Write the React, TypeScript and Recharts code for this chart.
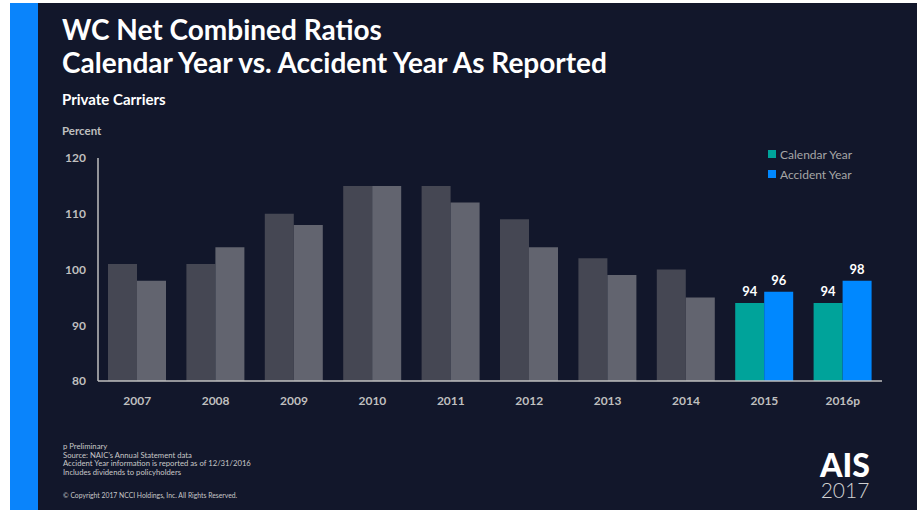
import { BarChart, Bar, XAxis, YAxis, Cell, LabelList } from 'recharts'

const years = ['2007', '2008', '2009', '2010', '2011', '2012', '2013', '2014', '2015', '2016p']
const calendarYear = [101, 101, 110, 115, 115, 109, 102, 100, 94, 94]
const accidentYear = [98, 104, 108, 115, 112, 104, 99, 95, 96, 98]
const yTicks = [80, 90, 100, 110, 120]
const highlighted = ['2015', '2016p']

const footnotes = [
  'p Preliminary',
  'Source: NAIC\u2019s Annual Statement data',
  'Accident Year information is reported as of 12/31/2016',
  'Includes dividends to policyholders',
]

const data = years.map((year, i) => ({
  year,
  calendar: calendarYear[i],
  accident: accidentYear[i],
}))

const BG = '#12172b'
const AXIS = '#bfbfbf'
const font = 'Lato, "Open Sans", sans-serif'

const legendItems = [
  { label: 'Calendar Year', color: '#00a39a' },
  { label: 'Accident Year', color: '#0088ff' },
]

function ValueLabel(props: any) {
  const { x, y, width, value, index } = props
  if (!highlighted.includes(years[index])) return null
  return (
    <text
      x={x + width / 2}
      y={y - 7}
      textAnchor="middle"
      fill="#ffffff"
      fontSize={13}
      fontWeight={700}
      fontFamily={font}
    >
      {value}
    </text>
  )
}

export default function App() {
  return (
    <div style={{ position: 'fixed', left: 0, top: 0, width: 920, height: 513, background: '#fff', fontFamily: font }}>
      {/* slide background */}
      <div style={{ position: 'absolute', left: 10, top: 3, width: 907, height: 507, background: BG }} />
      <div style={{ position: 'absolute', left: 10, top: 3, width: 28, height: 507, background: '#0a84fb' }} />

      <div style={{ position: 'absolute', left: 62, top: 13, color: '#fff', fontWeight: 700, fontSize: 28, lineHeight: '33px' }}>
        <div>WC Net Combined Ratios</div>
        <div>Calendar Year vs. Accident Year As Reported</div>
      </div>
      <div style={{ position: 'absolute', left: 62, top: 90, color: '#fff', fontWeight: 700, fontSize: 15 }}>
        Private Carriers
      </div>
      <div style={{ position: 'absolute', left: 62, top: 124, color: AXIS, fontWeight: 700, fontSize: 11.5 }}>
        Percent
      </div>

      <div style={{ position: 'absolute', left: 0, top: 0 }}>
        <BarChart
          width={920}
          height={513}
          data={data}
          margin={{ top: 158, right: 38, left: 38, bottom: 102 }}
          barCategoryGap={10}
          barGap={0}
        >
          <YAxis
            width={60}
            domain={[80, 120]}
            ticks={yTicks}
            interval={0}
            tickLine={false}
            tickMargin={6}
            axisLine={{ stroke: AXIS, strokeWidth: 1.5 }}
            tick={{ fill: AXIS, fontSize: 12, fontWeight: 700, fontFamily: font }}
          />
          <XAxis
            dataKey="year"
            height={30}
            tickLine={false}
            tickMargin={9}
            axisLine={{ stroke: AXIS, strokeWidth: 1.5 }}
            tick={{ fill: AXIS, fontSize: 12, fontWeight: 700, fontFamily: font }}
          />
          <Bar dataKey="calendar" isAnimationActive={false}>
            {data.map((d, i) => (
              <Cell key={`c-${i}`} fill={highlighted.includes(d.year) ? '#00a39a' : '#454753'} />
            ))}
            <LabelList dataKey="calendar" content={ValueLabel} />
          </Bar>
          <Bar dataKey="accident" isAnimationActive={false}>
            {data.map((d, i) => (
              <Cell key={`a-${i}`} fill={highlighted.includes(d.year) ? '#0088ff' : '#62646f'} />
            ))}
            <LabelList dataKey="accident" content={ValueLabel} />
          </Bar>
        </BarChart>
      </div>

      {/* legend */}
      <div style={{ position: 'absolute', left: 768, top: 144 }}>
        {legendItems.map(item => (
          <div key={item.label} style={{ display: 'flex', alignItems: 'center', height: 20 }}>
            <span style={{ width: 8, height: 8, background: item.color, marginRight: 4 }} />
            <span style={{ color: '#a6a6a6', fontSize: 12 }}>{item.label}</span>
          </div>
        ))}
      </div>

      {/* footnotes */}
      <div style={{ position: 'absolute', left: 63, top: 442, color: '#c8c8c8', fontSize: 7.7, lineHeight: '8.6px' }}>
        {footnotes.map(f => (
          <div key={f}>{f}</div>
        ))}
      </div>
      <div style={{ position: 'absolute', left: 63, top: 491, color: '#c8c8c8', fontSize: 6.8 }}>
        © Copyright 2017 NCCI Holdings, Inc. All Rights Reserved.
      </div>

      {/* logo */}
      <div style={{ position: 'absolute', left: 812, top: 450, width: 66, textAlign: 'center' }}>
        <div style={{ color: '#fff', fontWeight: 900, fontSize: 32, lineHeight: '30px' }}>AIS</div>
        <div style={{ color: '#d0d0d0', fontWeight: 300, fontSize: 21, lineHeight: '20px' }}>2017</div>
      </div>
    </div>
  )
}
